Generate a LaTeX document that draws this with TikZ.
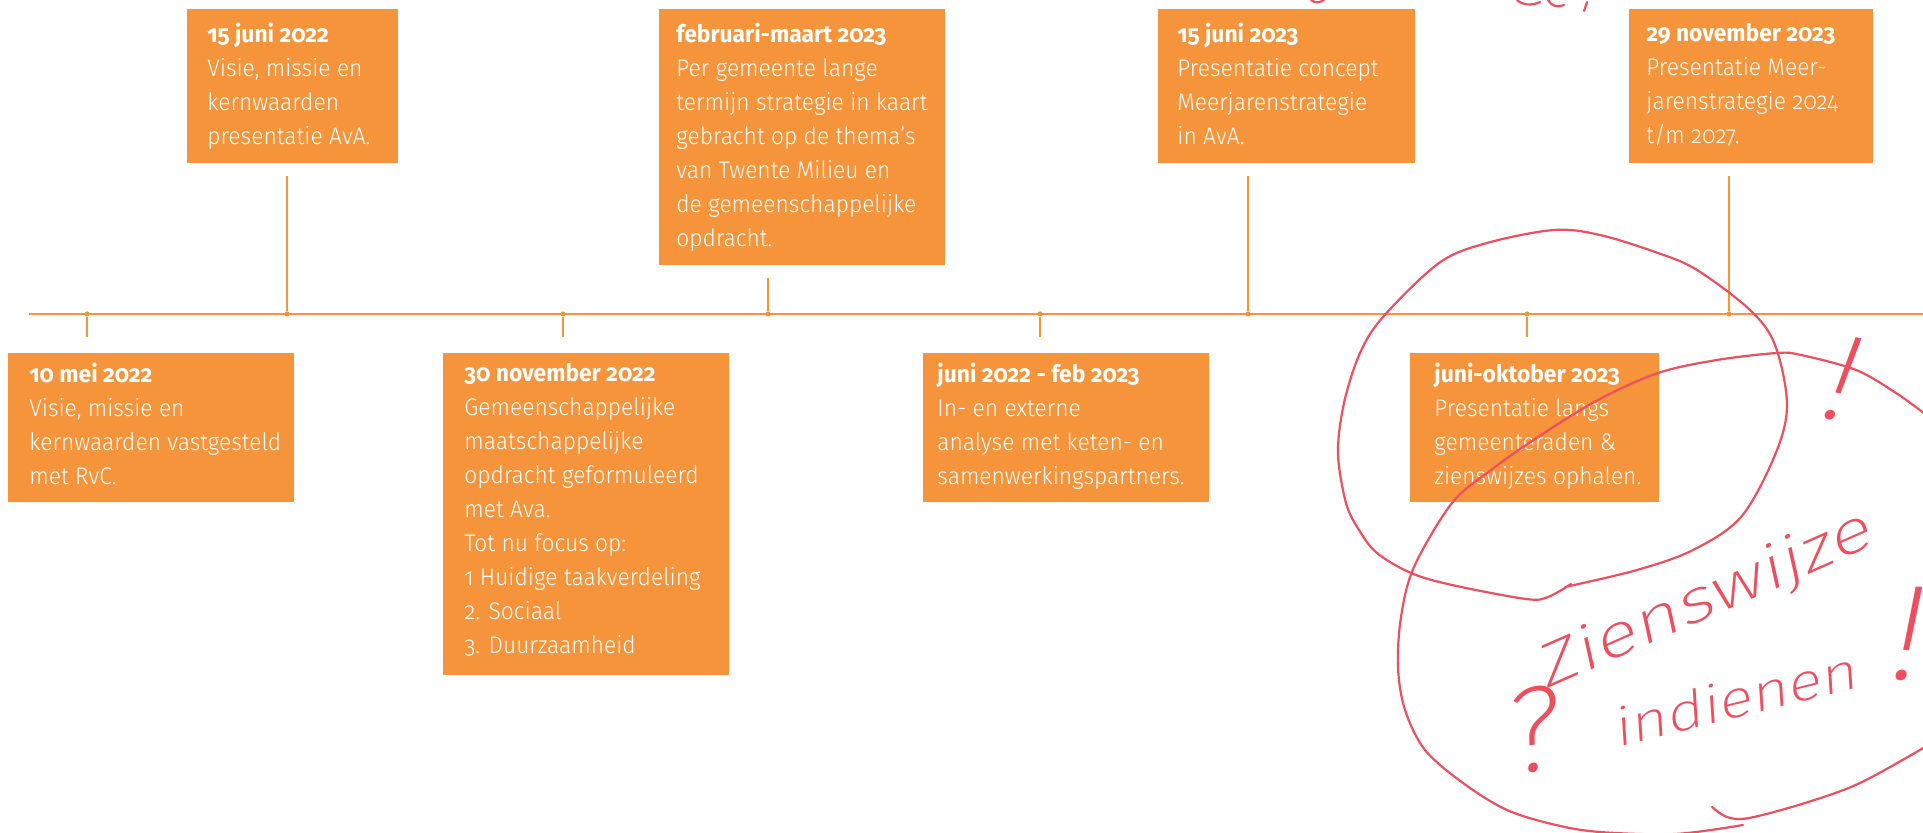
\documentclass[tikz,border=0pt]{standalone}
\usepackage{fontspec}
\setmainfont{Fira Sans}[UprightFont=* Light,BoldFont=* Bold,Numbers=OldStyle,FakeStretch=0.95]
\newfontfamily\handfont{Fira Sans ExtraLight}[FakeSlant=0.15]
\usetikzlibrary{positioning}
\definecolor{tmorange}{RGB}{245,148,58}
\definecolor{penred}{RGB}{238,78,94}

\begin{document}
\begin{tikzpicture}[x=0.5pt,y=-0.5pt,
 evbox/.style={fill=tmorange,anchor=north west,inner sep=0pt},
 evtext/.style={text=white,align=left,inner sep=0pt,font=\fontsize{12}{17}\selectfont,execute at begin node={\rule{0pt}{11pt}}},
 stem/.style={draw=tmorange,line width=0.75pt},
 dot/.style={circle,fill=tmorange,inner sep=0pt,minimum size=2.6pt},
 pen/.style={draw=penred,line width=1.1pt,line cap=round,line join=round},
 hand/.style={text=penred,inner sep=0pt,anchor=base west}]
 \useasboundingbox (0,0) rectangle (1923,833);
 \clip (0,0) rectangle (1923,833);

 % tijdlijn
 \coordinate (tlstart) at (29,314);
 \coordinate (tlend) at (1923,314);
 \draw[stem] (tlstart) -- (tlend);
 \node[dot] (dmei22) at (87,314) {};
 \node[dot] (djun22) at (287,314) {};
 \node[dot] (dnov22) at (563,314) {};
 \node[dot] (dfeb23) at (768,314) {};
 \node[dot] (dana) at (1040,314) {};
 \node[dot] (djun23) at (1248,314) {};
 \node[dot] (dokt23) at (1527,314) {};
 \node[dot] (dnov23) at (1729,314) {};

 % blokken boven
 \node[evbox,minimum width=105.5pt,minimum height=77pt] (jun22) at (187,9) {};
 \node[evbox,minimum width=143pt,minimum height=128pt] (feb23) at (659,9) {};
 \node[evbox,minimum width=128.5pt,minimum height=77pt] (jun23) at (1158,9) {};
 \node[evbox,minimum width=122pt,minimum height=77pt] (nov23) at (1629,9) {};
 % blokken onder
 \node[evbox,minimum width=143pt,minimum height=74.5pt] (mei22) at (8,353) {};
 \node[evbox,minimum width=143pt,minimum height=161pt] (nov22) at (443,353) {};
 \node[evbox,minimum width=143pt,minimum height=74.5pt] (ana) at (923,353) {};
 \node[evbox,minimum width=124.5pt,minimum height=74.5pt] (okt23) at (1410,353) {};

 \node[evtext,below right=7pt and 10pt of jun22.north west] (tjun22) {\textbf{15 juni 2022}\\Visie, missie en\\kernwaarden\\presentatie AvA.};
 \node[evtext,below right=7pt and 8.5pt of feb23.north west] (tfeb23) {\textbf{februari-maart 2023}\\Per gemeente lange\\termijn strategie in kaart\\gebracht op de thema’s\\van Twente Milieu en\\de gemeenschappelijke\\opdracht.};
 \node[evtext,below right=7pt and 9.5pt of jun23.north west] (tjun23) {\textbf{15 juni 2023}\\Presentatie concept\\Meerjarenstrategie\\in AvA.};
 \node[evtext,below right=7pt and 8.5pt of nov23.north west] (tnov23) {\textbf{29 november 2023}\\Presentatie Meer-\\jarenstrategie 2024\\t/m 2027.};
 \node[evtext,below right=5pt and 10.5pt of mei22.north west] (tmei22) {\textbf{10 mei 2022}\\Visie, missie en\\kernwaarden vastgesteld\\met RvC.};
 \node[evtext,below right=5pt and 10.5pt of nov22.north west] (tnov22) {\textbf{30 november 2022}\\Gemeenschappelijke\\maatschappelijke\\opdracht geformuleerd\\met Ava.\\Tot nu focus op:\\1 Huidige taakverdeling\\2. Sociaal\\3. Duurzaamheid};
 \node[evtext,below right=5pt and 7pt of ana.north west] (tana) {\textbf{juni 2022 - feb 2023}\\In- en externe\\analyse met keten- en\\samenwerkingspartners.};
 \node[evtext,below right=5pt and 12pt of okt23.north west] (tokt23) {\textbf{juni-oktober 2023}\\Presentatie langs\\gemeenteraden \&\\zienswijzes ophalen.};

 % verbindingen
 \draw[stem] (djun22) -- ([yshift=-6pt]djun22 |- jun22.south);
 \draw[stem] (dfeb23) -- ([yshift=-6pt]dfeb23 |- feb23.south);
 \draw[stem] (djun23) -- ([yshift=-6pt]djun23 |- jun23.south);
 \draw[stem] (dnov23) -- ([yshift=-6pt]dnov23 |- nov23.south);
 \draw[stem] (dmei22) -- ([yshift=8pt]dmei22 |- mei22.north);
 \draw[stem] (dnov22) -- ([yshift=8pt]dnov22 |- nov22.north);
 \draw[stem] (dana) -- ([yshift=8pt]dana |- ana.north);
 \draw[stem] (dokt23) -- ([yshift=8pt]dokt23 |- okt23.north);

 % handgeschreven opmerking
 \draw[pen] plot[smooth,tension=0.55] coordinates {(1565,587) (1637,570) (1693,550) (1741,517) (1775,455) (1787,405) (1775,345) (1750,310) (1697,270) (1658,253) (1600,235) (1554,230) (1487,243) (1439,263) (1383,317) (1360,353) (1344,403) (1338,453) (1346,503) (1359,530) (1377,553) (1411,573) (1452,585) (1526,599) (1548,597) (1571,584)};
 \draw[pen] plot[smooth,tension=0.55] coordinates {(1925,414) (1896,393) (1856,370) (1801,355) (1777,353) (1717,360) (1658,373) (1598,400) (1538,437) (1491,470) (1452,503) (1414,567) (1401,617) (1398,667) (1405,710) (1425,750) (1463,783) (1507,810) (1556,825) (1600,832) (1675,834) (1743,825)};
 \draw[pen] plot[smooth,tension=0.55] coordinates {(1925,747) (1860,783) (1805,803) (1749,818) (1727,817) (1712,807)};
 \draw[pen] (1311,0) .. controls (1314,3) and (1320,3) .. (1324,0);
 \draw[pen] (1517,0) .. controls (1522,5) and (1532,6) .. (1540,2);
 \draw[pen] (1548,0) .. controls (1551,6) and (1558,8) .. (1564,5);
 \draw[pen] (1587,2) -- (1584,11);
 \node[hand,font=\handfont\fontsize{30}{30}\selectfont,rotate=23.7,xscale=1.33] (zw) at (1545,690) {Zienswijze};
 \node[hand,font=\handfont\fontsize{26}{26}\selectfont,rotate=14,xscale=1.22] (ind) at (1617,748) {indienen};
 \node[hand,anchor=center,font=\handfont\fontsize{60}{60}\selectfont,rotate=10] (vraag) at (1530,731) {?};
 \node[hand,anchor=center,font=\handfont\fontsize{68}{68}\selectfont,rotate=-3] (uitr) at (1903,634) {!};
 \node[hand,anchor=center,font=\handfont\fontsize{62}{62}\selectfont,rotate=-12] (uitrb) at (1838,378) {!};
\end{tikzpicture}
\end{document}
